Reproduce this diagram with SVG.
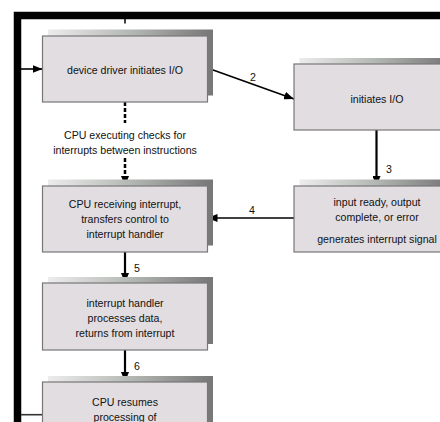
<svg xmlns="http://www.w3.org/2000/svg" width="440" height="422" viewBox="0 0 440 422">
<defs>
<linearGradient id="sh" x1="0" y1="0" x2="1" y2="0">
<stop offset="0" stop-color="#ececec"/>
<stop offset="0.5" stop-color="#b4b8b4"/>
<stop offset="1" stop-color="#767676"/>
</linearGradient>
<marker id="ah" viewBox="0 0 10 8" refX="10" refY="4" markerWidth="10" markerHeight="8" markerUnits="userSpaceOnUse" orient="auto">
<path d="M0,0 L10,4 L0,8 Z" fill="#000"/>
</marker>
<style>
.box{fill:#e1dde1;stroke:#777;stroke-width:1.2}
.shadow{fill:url(#sh)}
.t{font-family:"Liberation Sans",Arial,sans-serif;font-size:10.6px;fill:#111;text-anchor:middle}
.c{fill:none;stroke:#000;stroke-width:1.6}
.v{fill:none;stroke:#000;stroke-width:2.2}
.d{fill:none;stroke:#000;stroke-width:2.5;stroke-dasharray:4 2}
</style>
</defs>
<rect width="440" height="422" fill="#fff"/>
<g id="frame">
<path d="M17.5,422 V15.5 H440" fill="none" stroke="#000" stroke-width="7.5"/>
</g>
<g id="connectors">
<line x1="125" y1="19" x2="125" y2="23.5" stroke="#000" stroke-width="1.5"/>
<line class="c" x1="21" y1="69" x2="42.5" y2="69" marker-end="url(#ah)"/>
<line class="c" x1="207.5" y1="68" x2="294" y2="99" marker-end="url(#ah)"/>
<line class="v" x1="376.5" y1="130" x2="376.5" y2="186" marker-end="url(#ah)"/>
<line class="c" x1="294" y1="218" x2="207.5" y2="218" marker-end="url(#ah)"/>
<line class="v" x1="125" y1="252" x2="125" y2="283" marker-end="url(#ah)"/>
<line class="v" x1="125" y1="350" x2="125" y2="382" marker-end="url(#ah)"/>
<line class="d" x1="125" y1="102" x2="125" y2="123"/>
<line class="d" x1="125" y1="158" x2="125" y2="178"/>
<line class="v" x1="125" y1="176" x2="125" y2="186" marker-end="url(#ah)"/>
<line x1="21" y1="414.7" x2="43" y2="414.7" stroke="#333" stroke-width="1.6"/>
<text class="t" x="253" y="81">2</text>
<text class="t" x="389" y="173">3</text>
<text class="t" x="252" y="214">4</text>
<text class="t" x="137" y="272">5</text>
<text class="t" x="137" y="370">6</text>
<text class="t" x="125" y="138.5">CPU executing checks for</text>
<text class="t" x="125" y="153.5">interrupts between instructions</text>
</g>
<g id="n1">
<rect class="shadow" x="48" y="29.5" width="165" height="66"/>
<rect class="box" x="42.5" y="36" width="165" height="66"/>
<text class="t" x="125" y="73.5">device driver initiates I/O</text>
</g>
<g id="n2">
<rect class="shadow" x="299.5" y="58" width="150" height="66"/>
<rect class="box" x="294" y="64" width="150" height="66"/>
<text class="t" x="377" y="102.5">initiates I/O</text>
</g>
<g id="n3">
<rect class="shadow" x="299.5" y="179.5" width="150" height="66"/>
<rect class="box" x="294" y="186" width="150" height="66"/>
<text class="t" x="377" y="205.5">input ready, output</text>
<text class="t" x="377" y="220.5">complete, or error</text>
<text class="t" x="377" y="242.5">generates interrupt signal</text>
</g>
<g id="n4">
<rect class="shadow" x="48" y="179.5" width="165" height="66"/>
<rect class="box" x="42.5" y="186" width="165" height="66"/>
<text class="t" x="125" y="207.5">CPU receiving interrupt,</text>
<text class="t" x="125" y="222.5">transfers control to</text>
<text class="t" x="125" y="237.5">interrupt handler</text>
</g>
<g id="n5">
<rect class="shadow" x="48" y="277" width="165" height="67"/>
<rect class="box" x="42.5" y="283" width="165" height="67"/>
<text class="t" x="125" y="306.5">interrupt handler</text>
<text class="t" x="125" y="321.5">processes data,</text>
<text class="t" x="125" y="336.5">returns from interrupt</text>
</g>
<g id="n6">
<rect class="shadow" x="48" y="376" width="165" height="66"/>
<rect class="box" x="42.5" y="382" width="165" height="66"/>
<text class="t" x="125" y="405.5">CPU resumes</text>
<text class="t" x="125" y="420.5">processing of</text>
</g>
</svg>
